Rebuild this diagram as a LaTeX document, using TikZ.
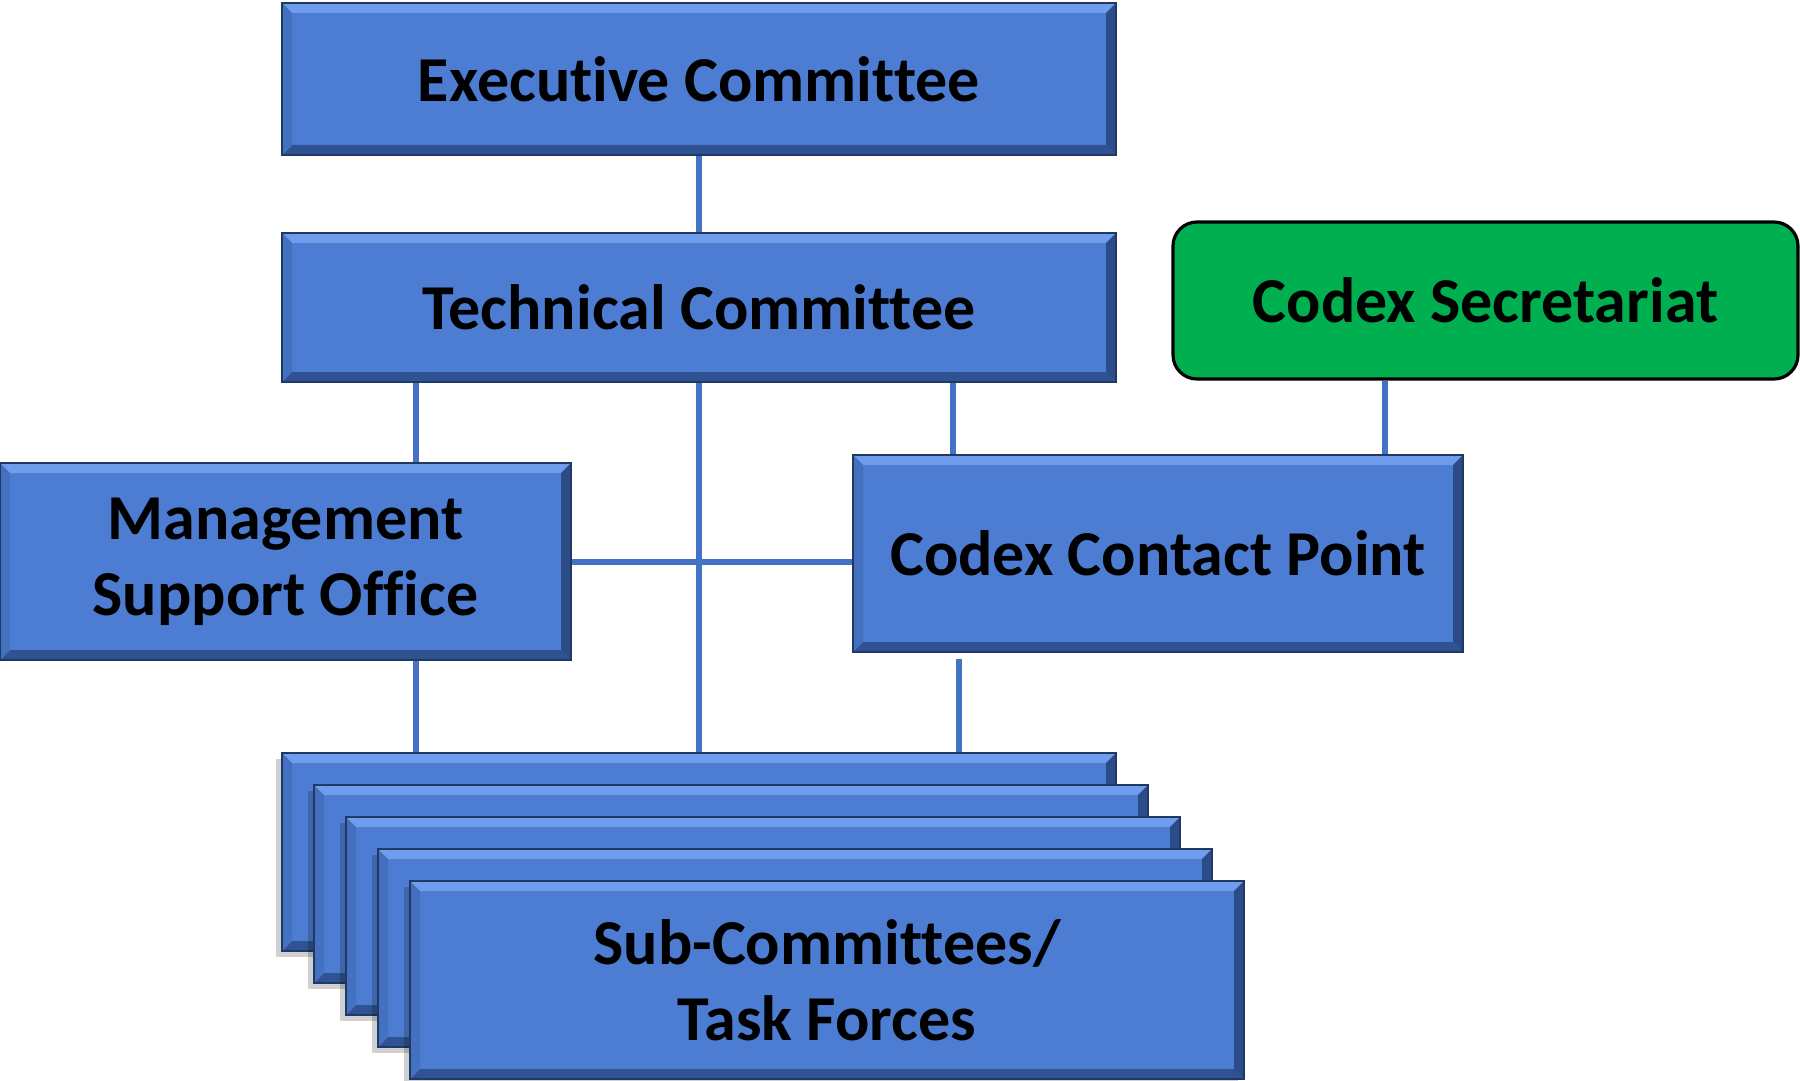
\documentclass[tikz,border=0pt]{standalone}
\usepackage{fontspec}
\setmainfont{Carlito}[Ligatures=NoCommon]
\usetikzlibrary{calc,positioning,shadows}

\definecolor{boxblue}{HTML}{4D7DD2}
\definecolor{bevtop}{HTML}{6F9DEC}
\definecolor{bevleft}{HTML}{4470C0}
\definecolor{bevright}{HTML}{2C4C88}
\definecolor{bevbottom}{HTML}{2F5293}
\definecolor{bevline}{HTML}{1F3864}
\definecolor{linkblue}{HTML}{4472C4}
\definecolor{secgreen}{HTML}{00AF50}

\tikzset{
  bluebox/.style={rectangle, fill=boxblue, draw=bevline, line width=0.6pt, inner sep=0pt,
    align=center, font=\fontsize{32}{38}\selectfont\bfseries,
    path picture={
      \path (path picture bounding box.north west) coordinate (bnw)
            (path picture bounding box.south east) coordinate (bse);
      \fill[bevtop] (bnw) -- (bnw -| bse) -- ($(bnw -| bse)+(-5pt,-5pt)$) -- ($(bnw)+(5pt,-5pt)$) -- cycle;
      \fill[bevbottom] (bse) -- (bse -| bnw) -- ($(bse -| bnw)+(5pt,5pt)$) -- ($(bse)+(-5pt,5pt)$) -- cycle;
      \fill[bevleft] (bnw) -- ($(bnw)+(5pt,-5pt)$) -- ($(bse -| bnw)+(5pt,5pt)$) -- (bse -| bnw) -- cycle;
      \fill[bevright] (bnw -| bse) -- (bse) -- ($(bse)+(-5pt,5pt)$) -- ($(bnw -| bse)+(-5pt,-5pt)$) -- cycle;
    }},
  stackbox/.style={bluebox, minimum width=417pt, minimum height=99pt,
    drop shadow={shadow xshift=-3pt, shadow yshift=-3pt, fill=black, opacity=0.18}},
  greenbox/.style={rectangle, rounded corners=12pt, fill=secgreen, draw=black, line width=1.6pt,
    inner sep=0pt, font=\fontsize{32}{38}\selectfont\bfseries},
  link/.style={draw=linkblue, line width=3pt}
}

\begin{document}
\begin{tikzpicture}[x=0.5pt,y=-0.5pt]
  \useasboundingbox (0,0) rectangle (1800,1081);
  % columns of the connectors
  \coordinate (tl) at (416,0);
  \coordinate (tr) at (953,0);
  \coordinate (cr) at (959,0);
  \coordinate (sr) at (1385,0);

  \node[bluebox, minimum width=417pt, minimum height=76pt] (exec) at (699,79) {Executive Committee};
  \node[bluebox, minimum width=417pt, minimum height=74.5pt] (tech) at (699,307.5) {Technical Committee};
  \node[greenbox, minimum width=312.5pt, minimum height=78.5pt] (sec) at (1485.5,300.5) {Codex Secretariat};
  \node[bluebox, minimum width=285.5pt, minimum height=98.5pt] (mgmt) at (285.5,561.5) {Management\\Support Office};
  \node[bluebox, minimum width=305pt, minimum height=98.5pt] (contact) at (1158,553.5) {Codex Contact Point};

  % stacked sub-committees
  \foreach \i in {1,...,4}
    \node[stackbox] (sub\i) at ({699+32*(\i-1)},{852+32*(\i-1)}) {};
  \node[stackbox] (sub) at (827,980) {Sub-Committees/\\Task Forces};

  \draw[link] (exec.south) -- (tech.north);
  \draw[link] (tech.south -| tl) -- (mgmt.north -| tl);
  \draw[link] (tech.south) -- (sub1.north);
  \draw[link] (tech.south -| tr) -- (contact.north -| tr);
  \draw[link] (sec.south -| sr) -- (contact.north -| sr);
  \draw[link] (mgmt.east) -- (mgmt.east -| contact.west);
  \draw[link] (mgmt.south -| tl) -- (sub1.north -| tl);
  \draw[link] ([yshift=-3pt]contact.south -| cr) -- (sub1.north -| cr);
\end{tikzpicture}
\end{document}
